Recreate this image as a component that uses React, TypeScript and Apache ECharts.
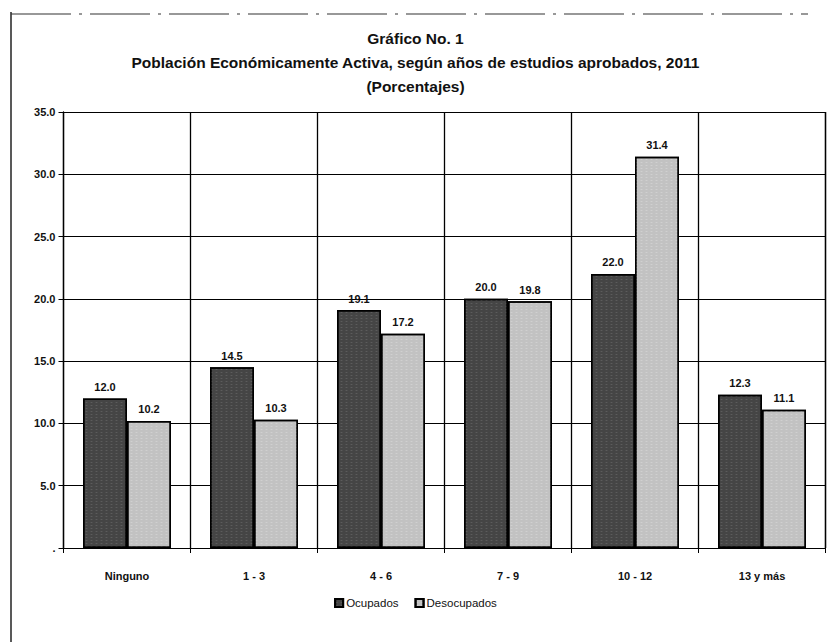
import React, { useEffect, useRef } from "react";
import * as echarts from "echarts";

const categories = ["Ninguno", "1 - 3", "4 - 6", "7 - 9", "10 - 12", "13 y más"];
const ocupados = [12.0, 14.5, 19.1, 20.0, 22.0, 12.3];
const desocupados = [10.2, 10.3, 17.2, 19.8, 31.4, 11.1];
const seriesNames = ["Ocupados", "Desocupados"];
const titleLines = [
  "Gráfico No. 1",
  "Población Económicamente Activa, según años de estudios aprobados, 2011",
  "(Porcentajes)",
];

const FONT = "'Liberation Sans', Arial, sans-serif";

export default function App() {
  const ref = useRef<HTMLDivElement>(null);
  useEffect(() => {
    if (!ref.current) return;
    const chart = echarts.init(ref.current, null, { renderer: "svg" });
    const labelStyle = {
      show: true,
      position: "top" as const,
      distance: 6,
      fontFamily: FONT,
      fontSize: 11,
      fontWeight: "bold" as const,
      color: "#111",
      formatter: (p: any) => Number(p.value).toFixed(1),
    };
    chart.setOption({
      animation: false,
      backgroundColor: "#fff",
      title: {
        text: titleLines.join("\n"),
        left: "center",
        top: 21,
        textStyle: {
          fontFamily: FONT,
          fontSize: 15.5,
          fontWeight: "bold",
          color: "#111",
          lineHeight: 24,
        },
      },
      legend: {
        data: seriesNames,
        bottom: 28,
        left: "center",
        itemWidth: 8,
        itemHeight: 8,
        itemGap: 16,
        icon: "rect",
        textStyle: { fontFamily: FONT, fontSize: 11.5, color: "#111", padding: [0, 0, 0, -2] },
      },
      grid: { left: 63.5, right: 5.5, top: 112, bottom: 94, containLabel: false },
      xAxis: {
        type: "category",
        data: categories,
        axisLine: { lineStyle: { color: "#000", width: 1.2 } },
        axisTick: { show: true, length: 5, lineStyle: { color: "#000" } },
        splitLine: { show: true, lineStyle: { color: "#000", width: 1.3 } },
        axisLabel: {
          fontFamily: FONT,
          fontSize: 11,
          fontWeight: "bold",
          color: "#111",
          margin: 22,
        },
      },
      yAxis: {
        type: "value",
        min: 0,
        max: 35,
        interval: 5,
        axisLine: { show: true, lineStyle: { color: "#000", width: 1.3 } },
        axisTick: { show: true, length: 5, lineStyle: { color: "#000" } },
        splitLine: { show: true, lineStyle: { color: "#000", width: 1 } },
        axisLabel: {
          fontFamily: FONT,
          fontSize: 11,
          fontWeight: "bold",
          color: "#111",
          margin: 8,
          formatter: (v: number) => (v === 0 ? "." : v.toFixed(1)),
        },
      },
      graphic: [
        {
          type: "line",
          shape: { x1: 11, y1: 12, x2: 11, y2: 642 },
          style: { stroke: "#222", lineWidth: 1.5 },
          silent: true,
        },
        {
          type: "line",
          shape: { x1: 11, y1: 14, x2: 808, y2: 14 },
          style: { stroke: "#333", lineWidth: 1.2, lineDash: [60, 8, 3, 8] },
          silent: true,
        },
        {
          type: "line",
          shape: { x1: 825.5, y1: 112, x2: 825.5, y2: 548 },
          style: { stroke: "#000", lineWidth: 1.3 },
          silent: true,
        },
      ],
      series: [
        {
          name: seriesNames[0],
          type: "bar",
          data: ocupados,
          barWidth: 44,
          barGap: "0%",
          itemStyle: {
            color: "#454545",
            borderColor: "#000",
            borderWidth: 1.5,
            decal: {
              symbol: "rect",
              symbolSize: 0.6,
              dashArrayX: [3, 2],
              dashArrayY: [1, 2],
              color: "rgba(200,200,200,0.35)",
              rotation: 0,
            },
          },
          label: labelStyle,
        },
        {
          name: seriesNames[1],
          type: "bar",
          data: desocupados,
          barWidth: 44,
          itemStyle: {
            color: "#c2c2c2",
            borderColor: "#000",
            borderWidth: 1.5,
            decal: {
              symbol: "rect",
              symbolSize: 0.6,
              dashArrayX: [3, 2],
              dashArrayY: [1, 2],
              color: "rgba(255,255,255,0.45)",
              rotation: 0,
            },
          },
          label: labelStyle,
        },
      ],
    });
    return () => chart.dispose();
  }, []);
  return <div ref={ref} style={{ width: 831, height: 642, position: "absolute", left: 0, top: 0 }} />;
}
